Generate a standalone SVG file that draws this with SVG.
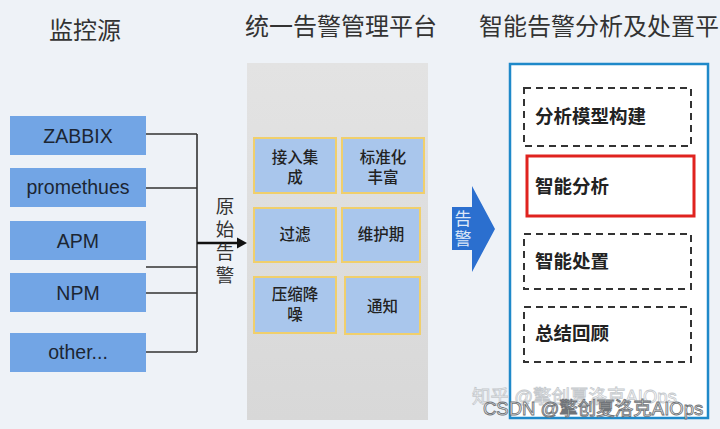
<svg xmlns="http://www.w3.org/2000/svg" width="720" height="429" viewBox="0 0 720 429">
<defs>
<style>
.title{font-family:"Noto Sans CJK SC","Liberation Sans",sans-serif;font-size:24px;fill:#333;text-anchor:middle}
.src rect{fill:#72a5e5}
.src text{font-family:"Liberation Sans","Noto Sans CJK SC",sans-serif;font-size:19.5px;fill:#1c2633;text-anchor:middle}
.step rect{fill:#a9c6ec;stroke:#f0cf6c;stroke-width:2}
.step text{font-family:"Noto Sans CJK SC",sans-serif;font-size:15.5px;font-weight:500;fill:#222;text-anchor:middle}
.stage rect{fill:none;stroke:#333;stroke-width:2;stroke-dasharray:7 5}
.stage text{font-family:"Noto Sans CJK SC",sans-serif;font-size:18.5px;font-weight:bold;fill:#222}
.conn{stroke:#333;stroke-width:1.6;fill:none}
.wm{font-family:"Liberation Sans","Noto Sans CJK SC",sans-serif;font-size:18.5px}
</style>
<linearGradient id="gp" x1="0" y1="0" x2="0" y2="1">
<stop offset="0" stop-color="#e3e3e3"/>
<stop offset="1" stop-color="#d8d8d8"/>
</linearGradient>
</defs>
<rect x="0" y="0" width="720" height="429" fill="#eef2f7"/>

<g id="titles">
<text class="title" x="85" y="39">监控源</text>
<text class="title" x="341" y="35">统一告警管理平台</text>
<text class="title" x="599" y="35">智能告警分析及处置平</text>
</g>

<g id="src-zabbix" class="src"><rect x="10" y="116" width="136" height="39"/><text x="78" y="142.5">ZABBIX</text></g>
<g id="src-prometheus" class="src"><rect x="10" y="168" width="136" height="39"/><text x="78" y="193.5">promethues</text></g>
<g id="src-apm" class="src"><rect x="10" y="221" width="136" height="39"/><text x="78" y="247.5">APM</text></g>
<g id="src-npm" class="src"><rect x="10" y="273" width="136" height="39"/><text x="78" y="299.5">NPM</text></g>
<g id="src-other" class="src"><rect x="10" y="333" width="136" height="39"/><text x="78" y="359">other...</text></g>

<g id="connectors">
<path class="conn" d="M146 134H197M146 188H197M146 267H197M146 293H197M146 352H197M197 134V352"/>
<line x1="197" y1="243" x2="240" y2="243" stroke="#111" stroke-width="2.6"/>
<polygon points="237,237.5 247,243 237,248.5" fill="#111"/>
</g>

<g id="label-raw-alert">
<text x="225" y="197" writing-mode="tb" letter-spacing="4.5" font-family="Noto Sans CJK SC,sans-serif" font-size="18.5" fill="#333">原始告警</text>
</g>

<g id="platform">
<rect x="247" y="63" width="181" height="357" fill="url(#gp)"/>
</g>
<g id="step-ingest" class="step"><rect x="254" y="138" width="82" height="55"/><text x="295" y="163">接入集<tspan x="295" dy="20">成</tspan></text></g>
<g id="step-enrich" class="step"><rect x="342" y="138" width="82" height="55"/><text x="383" y="163">标准化<tspan x="383" dy="20">丰富</tspan></text></g>
<g id="step-filter" class="step"><rect x="254" y="208" width="82" height="54"/><text x="295" y="240">过滤</text></g>
<g id="step-maint" class="step"><rect x="342" y="208" width="78" height="54"/><text x="381" y="240">维护期</text></g>
<g id="step-compress" class="step"><rect x="254" y="277" width="82" height="56"/><text x="295" y="300">压缩降<tspan x="295" dy="20">噪</tspan></text></g>
<g id="step-notify" class="step"><rect x="345" y="277" width="75" height="57"/><text x="382.5" y="312">通知</text></g>

<g id="alert-arrow">
<polygon points="452,207 472,207 472,186 495,229 472,272 472,250 452,250" fill="#2b6fcf"/>
<text x="463" y="210" writing-mode="tb" letter-spacing="3" font-family="Noto Sans CJK SC,sans-serif" font-size="17" fill="#dde8f8">告警</text>
</g>

<g id="analysis">
<rect x="510" y="64" width="198" height="354" fill="#fff" stroke="#1f89c9" stroke-width="2.5"/>
</g>
<g id="stage-model" class="stage"><rect x="524" y="88" width="167" height="58"/><text x="535" y="123">分析模型构建</text></g>
<g id="stage-analysis" class="stage"><rect x="527" y="156" width="167" height="60" style="stroke:#e0231f;stroke-width:3;stroke-dasharray:none"/><text x="535" y="193">智能分析</text></g>
<g id="stage-dispose" class="stage"><rect x="524" y="234" width="167" height="55"/><text x="535" y="268">智能处置</text></g>
<g id="stage-review" class="stage"><rect x="524" y="307" width="167" height="55"/><text x="535" y="340">总结回顾</text></g>

<g id="watermark">
<text class="wm"><tspan x="472" y="403" fill="#fff" fill-opacity="0.7" stroke="#c4c8cc" stroke-width="0.8">知乎 @擎创夏洛克AIOps</tspan><tspan x="483" y="415" fill="#fff" stroke="#707478" stroke-width="0.9">CSDN @擎创夏洛克AIOps</tspan></text>
</g>
</svg>
